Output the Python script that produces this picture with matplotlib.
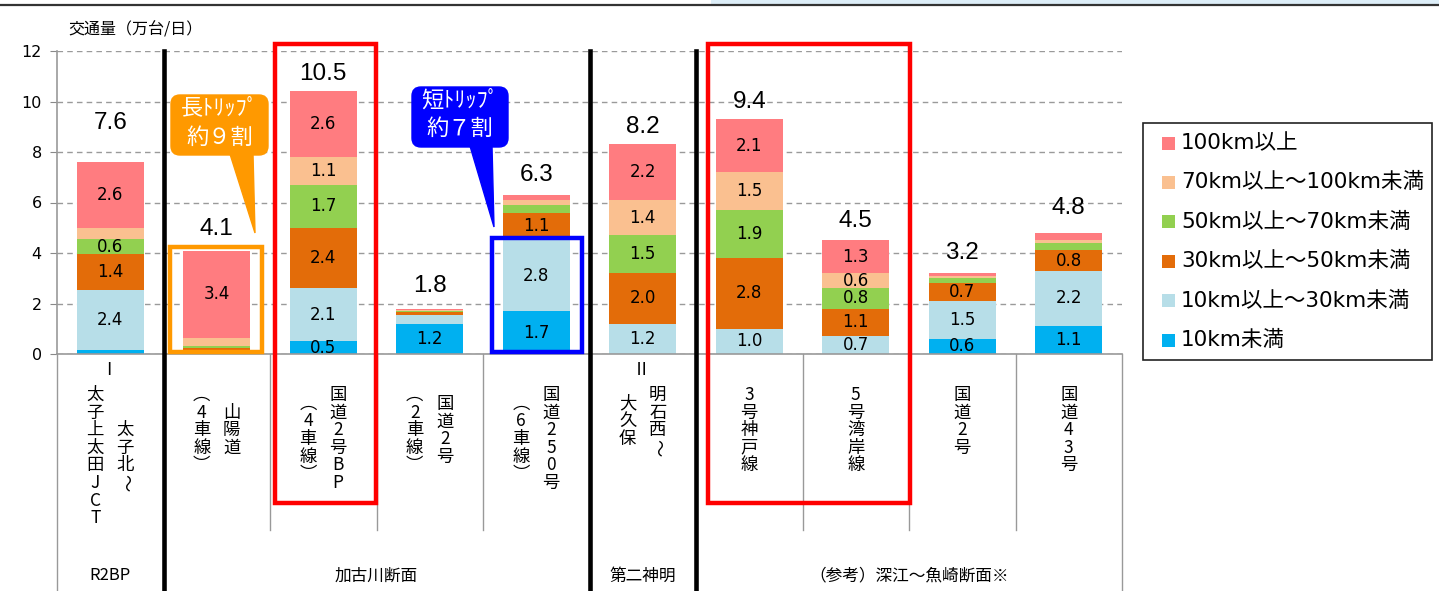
import matplotlib
matplotlib.use('Agg')
import matplotlib.pyplot as plt
import matplotlib.patches as patches
from matplotlib.lines import Line2D
from matplotlib.transforms import Affine2D, blended_transform_factory
import numpy as np

plt.rcParams['font.family'] = ['DejaVu Sans', 'Noto Sans CJK JP']

# ---- data ----
cat_labels = ['Ⅰ\n太子北～\n太子上太田JCT', '山陽道\n（4車線）', '国道2号BP\n（4車線）',
              '国道2号\n（2車線）', '国道250号\n（6車線）', 'Ⅱ\n明石西～\n大久保',
              '3号神戸線', '5号湾岸線', '国道2号', '国道43号']
groups = ['R2BP', '加古川断面', '第二神明', '（参考）深江～魚崎断面※']
group_sizes = [1, 4, 1, 4]

series_names = ['10km未満', '10km以上～30km未満', '30km以上～50km未満',
                '50km以上～70km未満', '70km以上～100km未満', '100km以上']
v_lt10 = [0.15, 0.05, 0.5, 1.2, 1.7, 0.0, 0.0, 0.0, 0.6, 1.1]
v_10_30 = [2.4, 0.07, 2.1, 0.35, 2.8, 1.2, 1.0, 0.7, 1.5, 2.2]
v_30_50 = [1.4, 0.1, 2.4, 0.1, 1.1, 2.0, 2.8, 1.1, 0.7, 0.8]
v_50_70 = [0.6, 0.1, 1.7, 0.05, 0.3, 1.5, 1.9, 0.8, 0.2, 0.3]
v_70_100 = [0.45, 0.33, 1.1, 0.05, 0.2, 1.4, 1.5, 0.6, 0.1, 0.1]
v_100 = [2.6, 3.44, 2.6, 0.05, 0.2, 2.2, 2.1, 1.3, 0.1, 0.3]
totals = ['7.6', '4.1', '10.5', '1.8', '6.3', '8.2', '9.4', '4.5', '3.2', '4.8']

colors = ['#00B0F0', '#B7DEE8', '#E36C09', '#92D050', '#FAC090', '#FF7C80']

W, H = 1439, 591
fig = plt.figure(figsize=(W / 100, H / 100), dpi=100)
fig.patch.set_facecolor('white')

# pixel coords (origin top-left)
fig_px = Affine2D().scale(1 / W, -1 / H).translate(0, 1) + fig.transFigure

ax = fig.add_axes([57 / W, 1 - 354 / H, (1122 - 57) / W, (354 - 51) / H])
ax.set_xlim(-0.5, 9.5)
ax.set_ylim(0, 12)
ax.set_axisbelow(True)
ax.yaxis.grid(True, linestyle=(0, (4, 3)), color='#9a9a9a', lw=1.0)
ax.set_yticks(np.arange(0, 13, 2))
ax.tick_params(axis='y', direction='out', length=5, color='#888888', labelsize=11.5, pad=6)
ax.set_xticks([])
for s in ['top', 'right']:
    ax.spines[s].set_visible(False)
ax.spines['left'].set_color('#999999')
ax.spines['bottom'].set_color('#999999')
ax.spines['left'].set_linewidth(1.2)
ax.spines['bottom'].set_linewidth(1.2)

xs = np.arange(len(cat_labels))
bottom = np.zeros(len(xs))
for vals, col in zip([v_lt10, v_10_30, v_30_50, v_50_70, v_70_100, v_100], colors):
    vals = np.array(vals)
    ax.bar(xs, vals, bottom=bottom, width=0.63, color=col, edgecolor='none', zorder=2)
    for i, v in enumerate(vals):
        if v >= 0.5:
            ax.text(i, bottom[i] + v / 2, f'{v:.1f}', ha='center', va='center',
                    fontsize=12, family='DejaVu Sans', zorder=3, clip_on=True)
    bottom += vals

# totals above bars
total_gap = [1.55, 0.85, 0.67, 0.9, 0.8, 0.7, 0.7, 0.75, 0.8, 1.0]
for i, t in enumerate(totals):
    ax.text(i, bottom[i] + total_gap[i], t, ha='center', va='center',
            fontsize=17.5, family='Liberation Sans', zorder=3)

# category area dividers
xpx = blended_transform_factory(ax.transData, fig_px)
group_edges = np.concatenate([[0], np.cumsum(group_sizes)]) - 0.5
for b in np.arange(-0.5, 10, 1.0):
    y_end = 591 if np.any(np.isclose(group_edges, b)) else 530
    fig.add_artist(Line2D([b, b], [354, y_end], transform=xpx, color='#999999', lw=1.0))
for b in group_edges[1:-1]:
    fig.add_artist(Line2D([b, b], [51, 591], transform=xpx, color='black', lw=3.3, zorder=4))

# vertical category labels
PITCH = 17.6
jp = ['Noto Sans CJK JP']
vert_forms = {'（': '︵', '）': '︶'}
for i, lab in enumerate(cat_labels):
    cx = ax.transData.transform((i, 0))[0]
    lines = lab.split('\n')
    if lines[0] in ('Ⅰ', 'Ⅱ'):
        fig.text(cx - 1, 370, lines[0], transform=fig_px, ha='center', va='center',
                 fontsize=12.5, family=jp)
        lines = lines[1:]
    n_col = len(lines)
    maxlen = max(len(l) for l in lines)
    yc = 395 + (maxlen - 1) / 2 * PITCH
    for c, line in enumerate(lines):
        dx = 0 if n_col == 1 else (15 if c == 0 else -15)
        for k, ch in enumerate(line):
            y = yc + (k - (len(line) - 1) / 2) * PITCH
            fig.text(cx + dx, y, vert_forms.get(ch, ch), transform=fig_px,
                     ha='center', va='center', fontsize=12.5, family=jp,
                     rotation=-90 if ch == '～' else 0)

# group labels
start = 0
for g, n in zip(groups, group_sizes):
    gx = start + (n - 1) / 2
    fig.text(gx, 576, g, transform=xpx, ha='center', va='center', fontsize=12, family=jp)
    start += n

# y label
fig.text(68, 30, '交通量（万台/日）', transform=fig_px, ha='left', va='center',
         fontsize=11.5, family=jp)

# highlight boxes
def frame(x0, y0, x1, y1, col):
    fig.add_artist(patches.Rectangle((x0, y0), x1 - x0, y1 - y0, transform=fig_px,
                                     fill=False, edgecolor=col, lw=3.2, zorder=5))

frame(170, 247, 262, 352, '#FF9900')
frame(492, 238, 582, 352, '#0000FF')
frame(275, 44, 376, 503, '#FF0000')
frame(708, 44, 910, 503, '#FF0000')

# callouts
def callout(x0, y0, x1, y1, tri, col, lines):
    fig.add_artist(patches.FancyBboxPatch((x0, y0), x1 - x0, y1 - y0,
                                          boxstyle='round,pad=0,rounding_size=9',
                                          transform=fig_px, facecolor=col, edgecolor=col, zorder=6))
    fig.add_artist(patches.Polygon(tri, closed=True, transform=fig_px,
                                   facecolor=col, edgecolor=col, zorder=6))
    cx = (x0 + x1) / 2
    for (txt, y) in lines:
        fig.text(cx, y, txt, transform=fig_px, ha='center', va='center', color='white',
                 fontsize=16, family=jp, zorder=7)

callout(171, 95, 268, 155, [(230, 154), (253, 154), (255, 233)], '#FF9900',
        [('長ﾄﾘｯﾌﾟ', 108), ('約９割', 137)])
callout(412, 87, 508, 147, [(470, 146), (492, 146), (494, 227)], '#0000FF',
        [('短ﾄﾘｯﾌﾟ', 100), ('約７割', 128)])

# legend
fig.add_artist(patches.Rectangle((1143, 123), 289, 237, transform=fig_px,
                                 facecolor='white', edgecolor='#222222', lw=1.2))
for k, idx in enumerate(range(len(series_names) - 1, -1, -1)):
    yc = 143 + k * 39.4
    fig.add_artist(patches.Rectangle((1162, yc - 6.5), 13, 13, transform=fig_px,
                                     facecolor=colors[idx], edgecolor='none'))
    fig.text(1181, yc, series_names[idx], transform=fig_px, ha='left', va='center',
             fontsize=15.5)

# cut-off header strip at the very top
fig.add_artist(patches.Rectangle((711, 0), W - 711, 4, transform=fig_px,
                                 facecolor='#DDEEF8', edgecolor='none'))
fig.add_artist(Line2D([0, W], [5, 5], transform=fig_px, color='#333333', lw=1.6))

fig.savefig('out.png', dpi=100)
